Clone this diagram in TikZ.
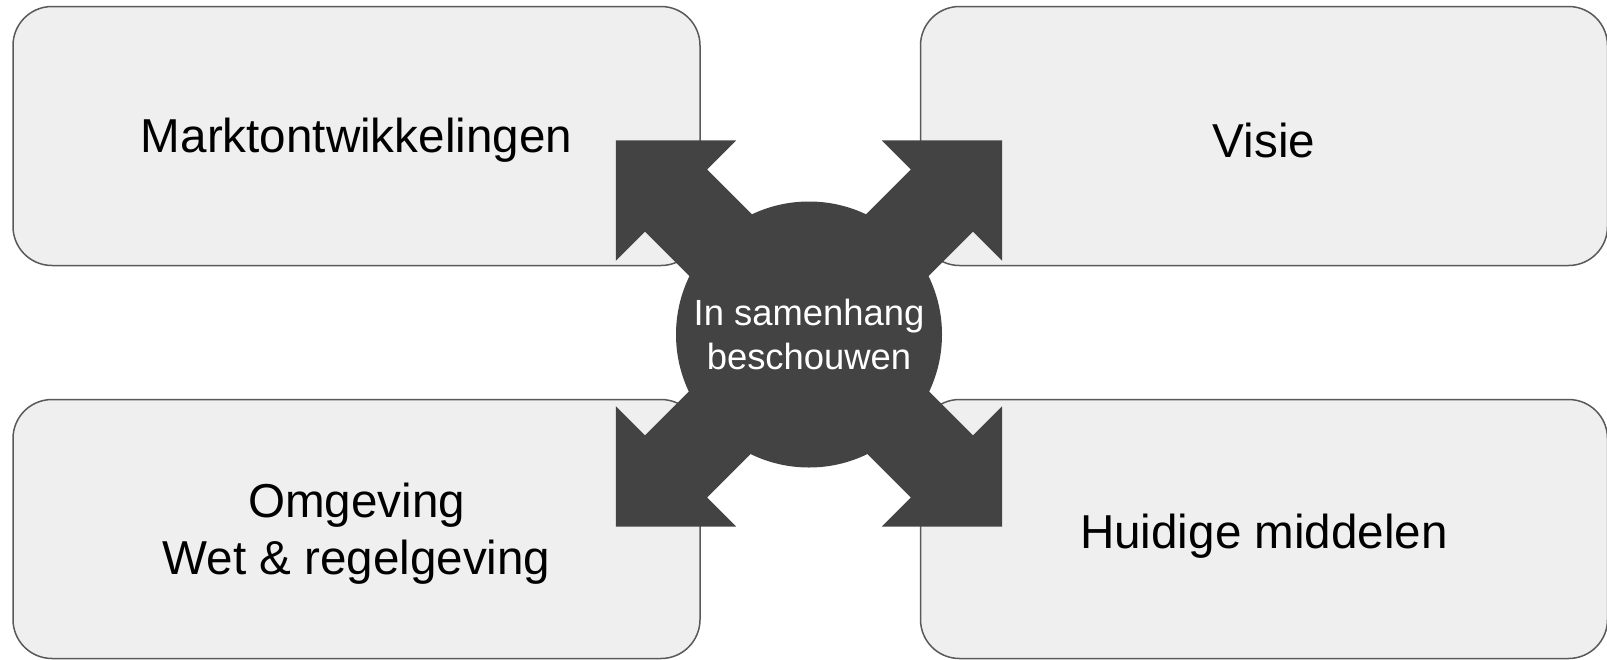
\documentclass[tikz,border=0pt]{standalone}
\usepackage{fontspec}
\setmainfont{Liberation Sans}
\usepackage{xcolor}
\usetikzlibrary{positioning}
\definecolor{boxgray}{HTML}{EFEFEF}
\definecolor{edgegray}{HTML}{595959}
\definecolor{hubgray}{HTML}{434343}
\tikzstyle{field}=  [draw=edgegray,
fill=boxgray,
line width=0.75pt,
rounded corners=19.5pt,
minimum width=343.5pt,
minimum height=129.5pt,
]
\tikzstyle{fieldtext}= [align=center,
font=\fontsize{23.8}{28.5}\selectfont,
]
\tikzstyle{hub}=    [circle,
fill=hubgray,
minimum size=133pt,
inner sep=0,
text=white,
align=center,
font=\fontsize{18.2}{22}\selectfont,
]
\tikzstyle{bigarrow}= [fill=hubgray,]

\begin{document}
\begin{tikzpicture}[x=0.5pt, y=-0.5pt]
        \useasboundingbox (0,0) rectangle (1607,659);
        \coordinate (mid) at (809,333.5);
        \node[field, label={[fieldtext, yshift=-2pt]center:Marktontwikkelingen}] (markt) at (356.5,136) {};
        \node[field, right=109.5pt of markt, label={[fieldtext, yshift=-2pt]center:Visie}] (visie) {};
        \node[field, label={[fieldtext, yshift=-2.5pt]center:{Omgeving\\Wet \& regelgeving}}] (omgeving) at (356.5,529) {};
        \node[field, right=109.5pt of omgeving, label={[fieldtext, yshift=-3.5pt]center:Huidige middelen}] (middelen) {};

        \foreach \a in {45,135,225,315}
            \fill[bigarrow, shift={(mid)}, rotate=\a] (0,-44) -- (188,-44) -- (188,-85) -- (273,0) -- (188,85) -- (188,44) -- (0,44) -- cycle;
        \node[hub, yshift=-0.5pt] (kern) at (mid) {In samenhang\\beschouwen};
    \end{tikzpicture}
\end{document}
